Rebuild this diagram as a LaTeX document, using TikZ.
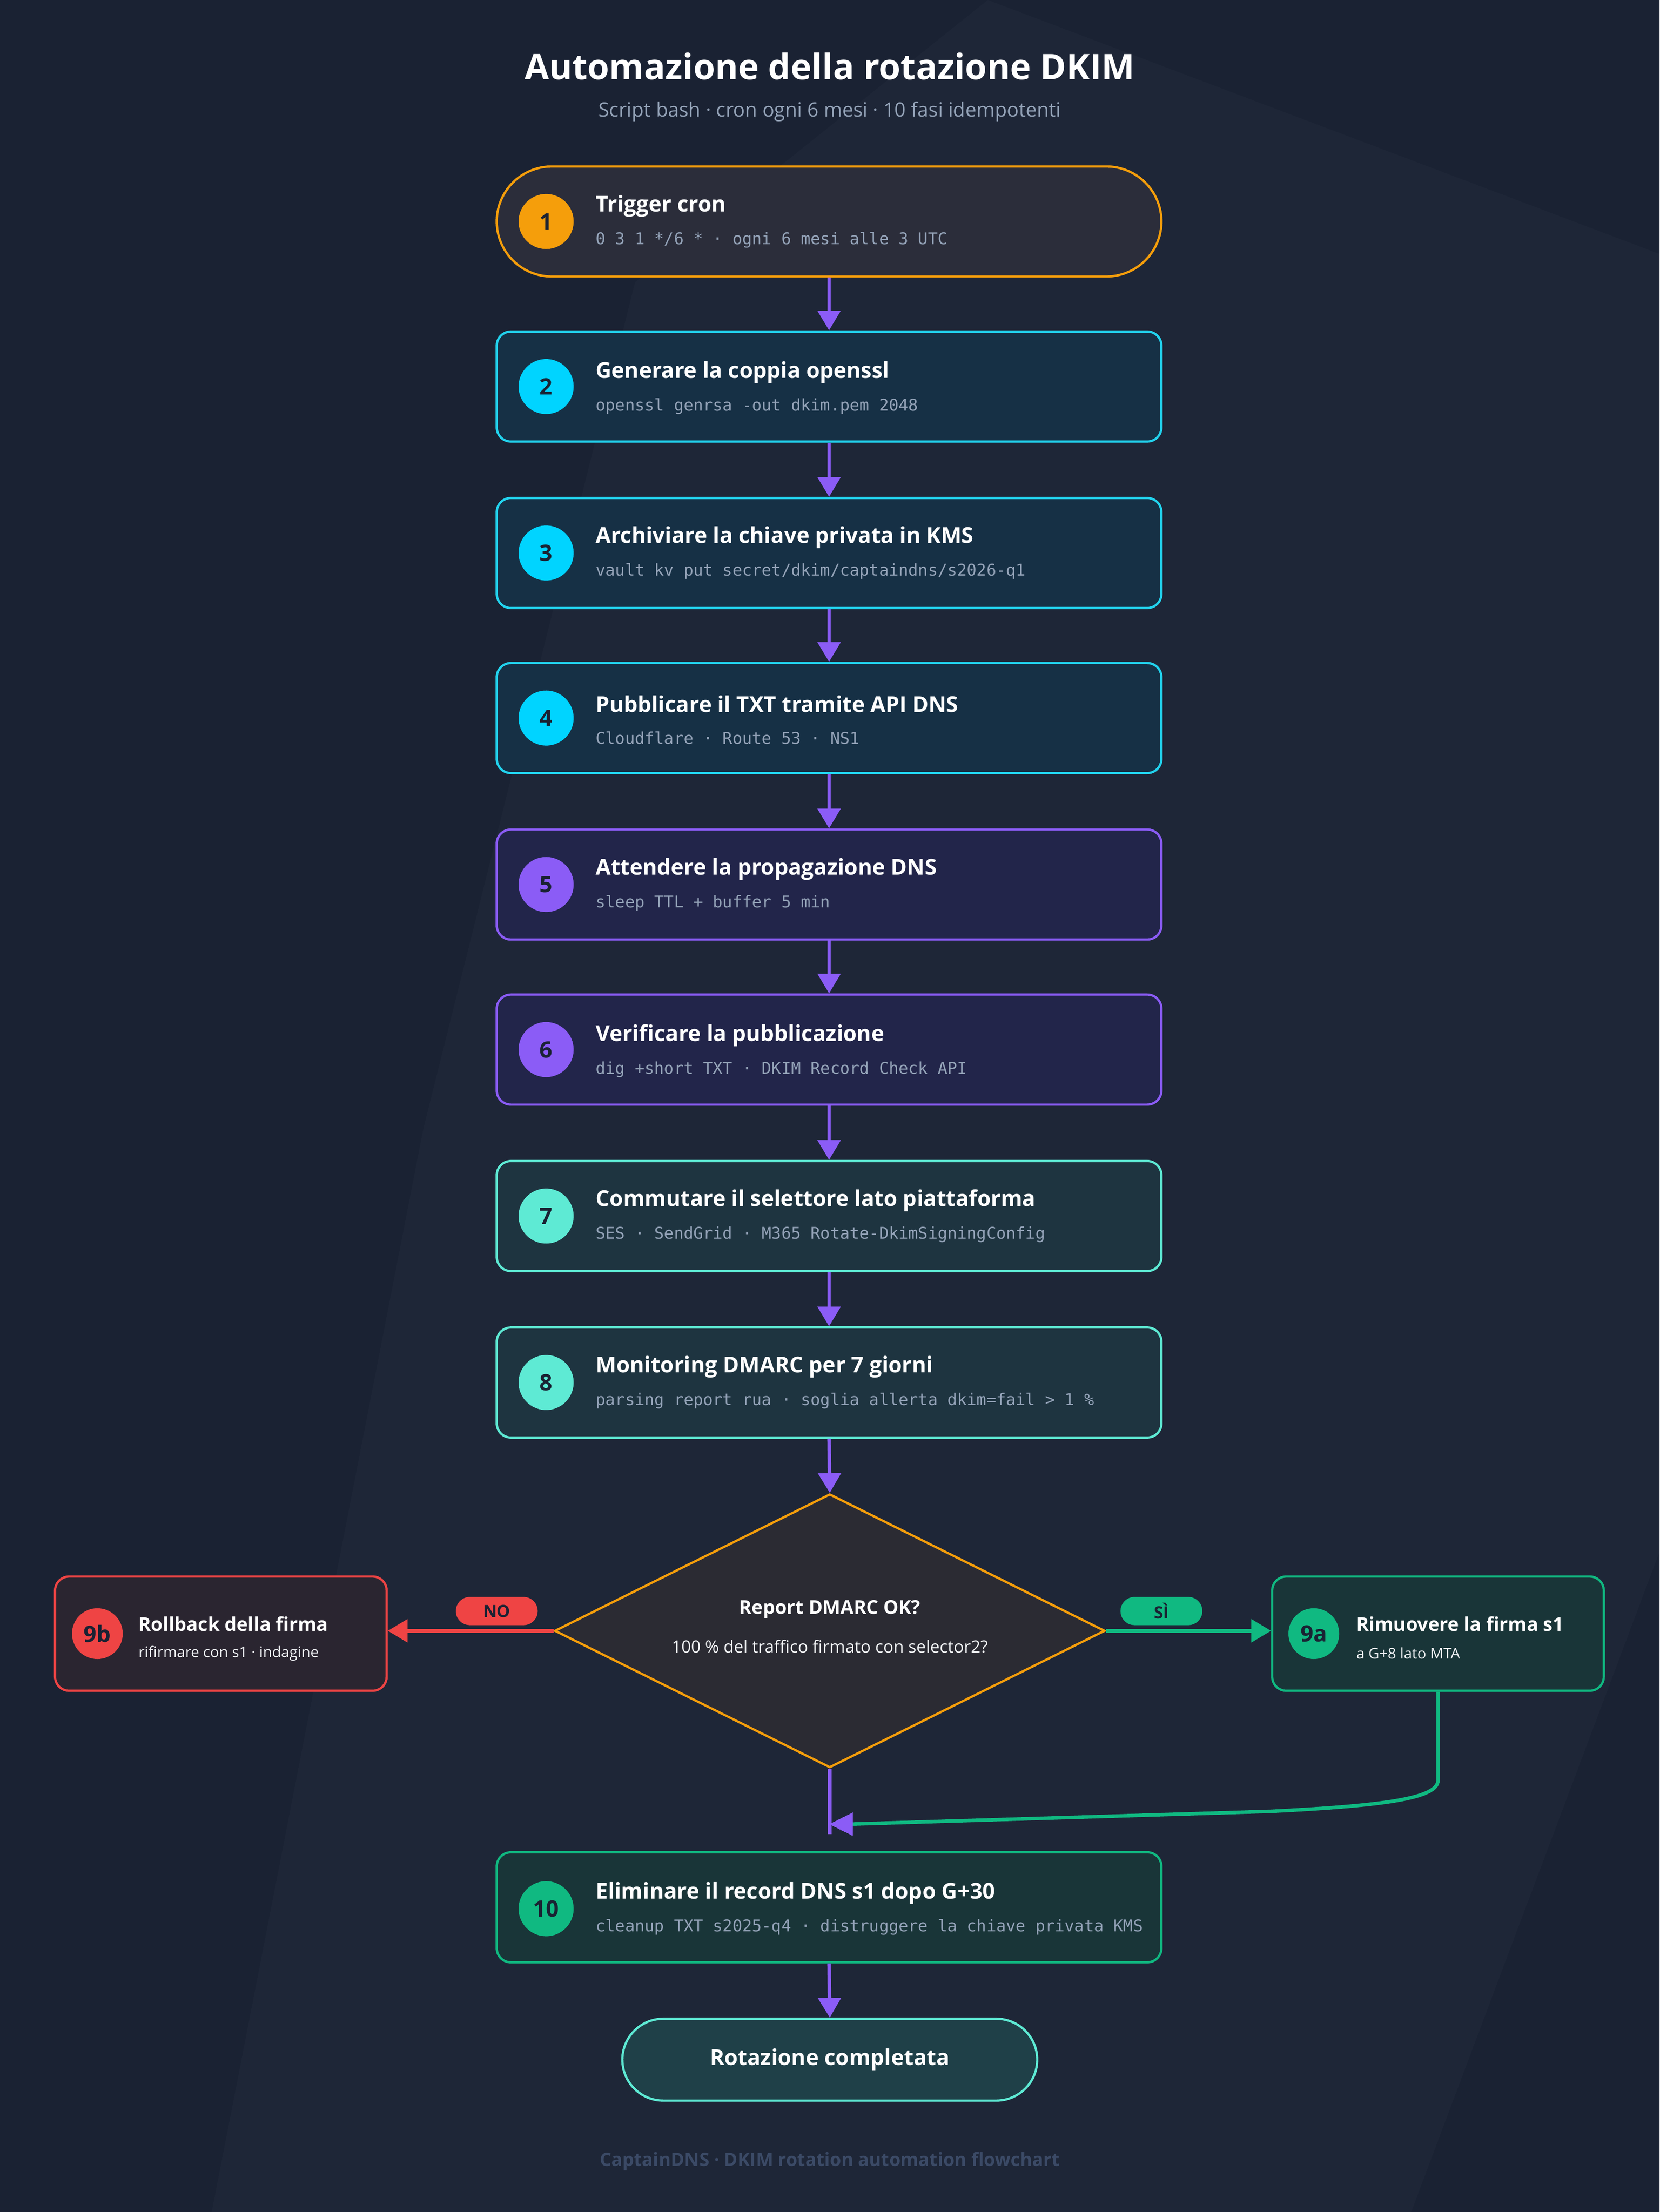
\documentclass[tikz,border=0pt]{standalone}
\usepackage{fontspec}
\setmainfont{Open Sans}
\newfontfamily\monof{DejaVu Sans Mono}
\usetikzlibrary{arrows.meta,shapes.geometric}
\definecolor{bg}{HTML}{1A2233}
\definecolor{org}{HTML}{F59E0B}
\definecolor{cyn}{HTML}{22D3EE}
\definecolor{cyc}{HTML}{00D4FF}
\definecolor{pur}{HTML}{8B5CF6}
\definecolor{tea}{HTML}{5EEAD4}
\definecolor{grn}{HTML}{10B981}
\definecolor{rd}{HTML}{EF4444}
\definecolor{sub}{HTML}{94A3B8}
\definecolor{f1}{HTML}{2B2D3A}
\definecolor{fc}{HTML}{163045}
\definecolor{fp}{HTML}{22254A}
\definecolor{ft}{HTML}{1E3440}
\definecolor{fg}{HTML}{193538}
\definecolor{fr}{HTML}{2A2530}
\definecolor{fd}{HTML}{2B2B33}
\definecolor{fe}{HTML}{1F4048}
\definecolor{foot}{HTML}{3B4A66}
\begin{document}
\begin{tikzpicture}[x=1pt,y=-1pt,
 box/.style={draw,line width=1.6pt,rounded corners=10pt,minimum width=471pt,minimum height=78pt,inner sep=0pt},
 sbox/.style={draw,line width=1.6pt,rounded corners=10pt,minimum width=235pt,minimum height=81pt,inner sep=0pt},
 num/.style={circle,minimum size=39pt,inner sep=0pt,text=bg,font=\bfseries\fontsize{16}{16}\selectfont},
 ttl/.style={anchor=west,text=white,font=\bfseries\fontsize{15.5}{18}\selectfont,inner sep=0pt},
 sttl/.style={anchor=west,text=white,font=\bfseries\fontsize{13.5}{16}\selectfont,inner sep=0pt},
 mono/.style={anchor=west,text=sub,font=\monof\fontsize{11.5}{13}\selectfont,inner sep=0pt},
 small/.style={anchor=west,text=white!85!sub,font=\fontsize{10.5}{13}\selectfont,inner sep=0pt},
 arr/.style={line width=2.5pt,-{Triangle[length=14pt,width=16pt]}},
 pill/.style={rounded corners=10pt,minimum width=58pt,minimum height=20pt,inner sep=0pt,font=\bfseries\fontsize{12}{12}\selectfont}]
\fill[bg] (0,0) rectangle (1176,1568);
\useasboundingbox (0,0) rectangle (1176,1568);
\fill[white,opacity=0.02] (700,0) -- (1176,180) -- (1176,1100) -- (1000,1568) -- (150,1568) -- (300,800) -- (450,200) -- cycle;
\node[text=white,font=\bfseries\fontsize{25}{30}\selectfont] (title) at (588,47) {Automazione della rotazione DKIM};
\node[text=sub,font=\fontsize{14}{17}\selectfont] (subt) at (588,79) {Script bash · cron ogni 6 mesi · 10 fasi idempotenti};
% boxes
\node[box,draw=org,fill=f1,rounded corners=39pt] (b1) at (587.5,157) {};
\node[box,draw=cyn,fill=fc] (b2) at (587.5,274) {};
\node[box,draw=cyn,fill=fc] (b3) at (587.5,392) {};
\node[box,draw=cyn,fill=fc] (b4) at (587.5,509) {};
\node[box,draw=pur,fill=fp] (b5) at (587.5,627) {};
\node[box,draw=pur,fill=fp] (b6) at (587.5,744) {};
\node[box,draw=tea,fill=ft] (b7) at (587.5,862) {};
\node[box,draw=tea,fill=ft] (b8) at (587.5,980) {};
\node[box,draw=grn,fill=fg] (b10) at (587.5,1352) {};
\node[draw=tea,fill=fe,line width=1.6pt,rounded corners=29pt,minimum width=294pt,minimum height=58pt,text=white,font=\bfseries\fontsize{15.5}{18}\selectfont] (end) at (588,1460) {Rotazione completata};
% numbers and texts
\node[num,fill=org] (n1) at (387,157) {1};
\node[ttl] (t1) at (422,146) {Trigger cron};
\node[mono] (m1) at (422,170) {0 3 1 */6 * · ogni 6 mesi alle 3 UTC};
\node[num,fill=cyc] (n2) at (387,274) {2};
\node[ttl] (t2) at (422,264) {Generare la coppia openssl};
\node[mono] (m2) at (422,288) {openssl genrsa -out dkim.pem 2048};
\node[num,fill=cyc] (n3) at (387,392) {3};
\node[ttl] (t3) at (422,381) {Archiviare la chiave privata in KMS};
\node[mono] (m3) at (422,405) {vault kv put secret/dkim/captaindns/s2026-q1};
\node[num,fill=cyc] (n4) at (387,509) {4};
\node[ttl] (t4) at (422,499) {Pubblicare il TXT tramite API DNS};
\node[mono] (m4) at (422,523) {Cloudflare · Route 53 · NS1};
\node[num,fill=pur] (n5) at (387,627) {5};
\node[ttl] (t5) at (422,616) {Attendere la propagazione DNS};
\node[mono] (m5) at (422,640) {sleep TTL + buffer 5 min};
\node[num,fill=pur] (n6) at (387,744) {6};
\node[ttl] (t6) at (422,734) {Verificare la pubblicazione};
\node[mono] (m6) at (422,758) {dig +short TXT · DKIM Record Check API};
\node[num,fill=tea] (n7) at (387,862) {7};
\node[ttl] (t7) at (422,851) {Commutare il selettore lato piattaforma};
\node[mono] (m7) at (422,875) {SES · SendGrid · M365 Rotate-DkimSigningConfig};
\node[num,fill=tea] (n8) at (387,980) {8};
\node[ttl] (t8) at (422,969) {Monitoring DMARC per 7 giorni};
\node[mono] (m8) at (422,993) {parsing report rua · soglia allerta dkim=fail > 1 \%};
\node[num,fill=grn] (n10) at (387,1353) {10};
\node[ttl] (t10) at (422,1342) {Eliminare il record DNS s1 dopo G+30};
\node[mono] (m10) at (422,1366) {cleanup TXT s2025-q4 · distruggere la chiave privata KMS};
% diamond
\node[diamond,draw=org,fill=fd,line width=1.6pt,minimum width=390pt,minimum height=194pt,inner sep=0pt,aspect=2] (d) at (588,1156) {};
\node[text=white,font=\bfseries\fontsize{13.5}{16}\selectfont] (dt) at (588,1141) {Report DMARC OK?};
\node[text=white!90!sub,font=\fontsize{12}{15}\selectfont] (ds) at (588,1167) {100 \% del traffico firmato con selector2?};
% side boxes
\node[sbox,draw=rd,fill=fr] (b9b) at (156.5,1158) {};
\node[num,fill=rd,minimum size=36pt] (n9b) at (69,1158) {9b};
\node[sttl] (t9b) at (98,1151) {Rollback della firma};
\node[small] (s9b) at (98,1172) {rifirmare con s1 · indagine};
\node[sbox,draw=grn,fill=fg] (b9a) at (1019,1158) {};
\node[num,fill=grn,minimum size=36pt] (n9a) at (931,1158) {9a};
\node[sttl] (t9a) at (961,1151) {Rimuovere la firma s1};
\node[small] (s9a) at (961,1172) {a G+8 lato MTA};
% arrows
\foreach \a/\b in {b1/b2,b2/b3,b3/b4,b4/b5,b5/b6,b6/b7,b7/b8,b8/d,b10/end}
  \draw[arr,pur] (\a.south) -- (\b.north);
\draw[arr,rd] (d.west) -- (d.west -| b9b.east);
\draw[arr,grn] (d.east) -- (d.east -| b9a.west);
\node[pill,fill=rd,text=bg] (no) at (352,1142) {NO};
\node[pill,fill=grn,text=bg] (si) at (823,1142) {SÌ};
\draw[pur,line width=2.5pt] (d.south) -- (588,1300);
\draw[grn,line width=2.5pt] (b9a.south) -- (1019,1262) .. controls (1019,1275) and (980,1280) .. (900,1284) -- (604,1293);
\draw[pur,fill=pur,line width=0pt] (588,1293) -- (604,1285) -- (604,1301) -- cycle;
\node[text=foot,font=\bfseries\fontsize{13}{15}\selectfont] (ft) at (588,1532) {CaptainDNS · DKIM rotation automation flowchart};
\end{tikzpicture}
\end{document}
